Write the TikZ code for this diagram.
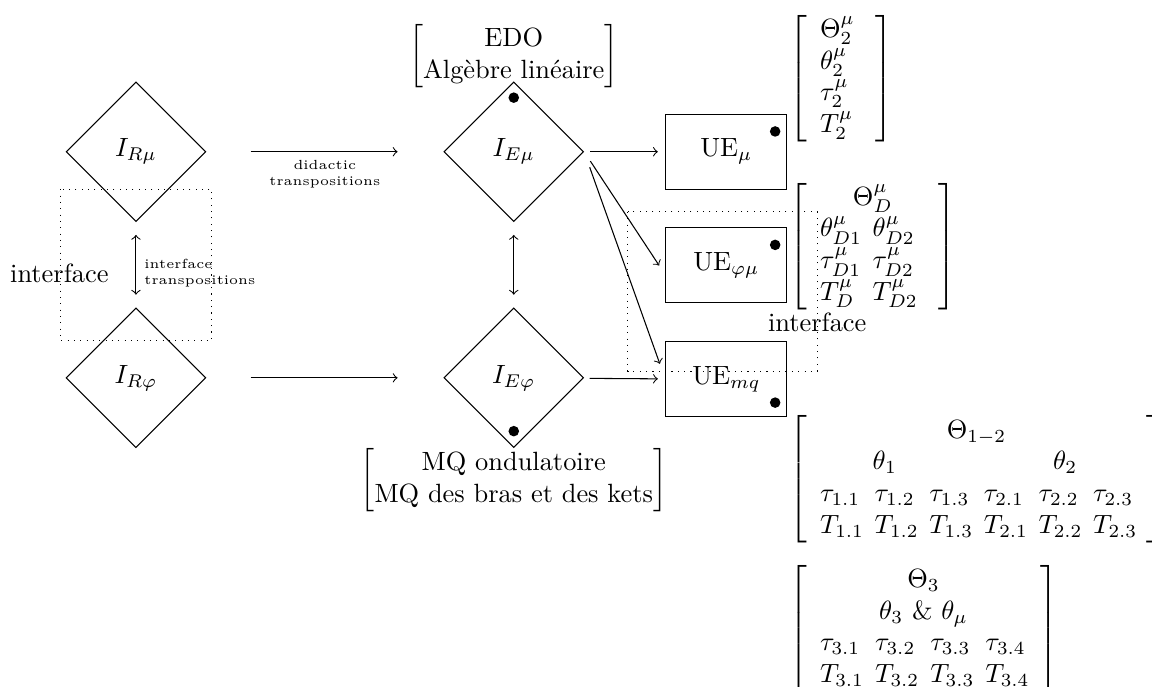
\documentclass[tikz,border=0pt]{standalone}
\usepackage{amsmath,amssymb}
\usepackage{tikz}
\usetikzlibrary{positioning,shapes.geometric}

\tikzset{
  idea/.style={diamond, draw, minimum size=1.86cm, inner sep=0pt},
  unitbox/.style={rectangle, draw, minimum width=1.61cm, minimum height=1cm},
  zone/.style={draw, dotted},
  tag/.style={inner sep=0pt},
  note/.style={font=\tiny, inner sep=3pt}
}

\begin{document}
\begin{tikzpicture}
    \useasboundingbox (0,0) rectangle (15.337,-9.146);

    % Diamonds of the two levels
    \node[idea] (Rmu) at (1.81,-2.02) {$I_{R\mu}$};
    \node[idea] (Rphi) at (1.81,-5.03) {$I_{R\varphi}$};
    \node[idea] (Emu) at (6.84,-2.02) {$I_{E\mu}$};
    \node[idea] (Ephi) at (6.84,-5.03) {$I_{E\varphi}$};

    % Teaching units
    \node[unitbox] (UEmu) at (9.67,-2.02) {$\mathrm{UE}_{\mu}$};
    \node[unitbox] (UEphimu) at (9.67,-3.53) {$\mathrm{UE}_{\varphi\mu}$};
    \node[unitbox] (UEmq) at (9.67,-5.05) {$\mathrm{UE}_{mq}$};

    \fill ([yshift=0.72cm]Emu.center) circle (2pt);
    \fill ([yshift=-0.71cm]Ephi.center) circle (2pt);
    \fill ([shift={(0.65,0.27)}]UEmu.center) circle (2pt);
    \fill ([shift={(0.65,0.27)}]UEphimu.center) circle (2pt);
    \fill ([shift={(0.65,-0.31)}]UEmq.center) circle (2pt);

    % Contents above and below
    \node[tag, above=-0.09cm of Emu] (edo) {$\begin{bmatrix}\text{EDO}\\ \text{Algèbre linéaire}\end{bmatrix}$};
    \node[tag, below=0cm of Ephi] (mq) {$\begin{bmatrix}\text{MQ ondulatoire}\\ \text{MQ des bras et des kets}\end{bmatrix}$};

    % Transpositions
    \draw[->, shorten <=0.59cm, shorten >=0.61cm] (Rmu) -- (Emu)
        node[note, midway, below, align=center] {didactic\\transpositions};
    \draw[->, shorten <=0.59cm, shorten >=0.61cm] (Rphi) -- (Ephi);
    \draw[<->, shorten <=0.17cm, shorten >=0.17cm] (Rmu) -- (Rphi)
        node[note, pos=0.6, right, align=left] {interface\\transpositions};
    \draw[<->, shorten <=0.17cm, shorten >=0.17cm] (Emu) -- (Ephi);

    % Towards the units
    \draw[->, shorten <=0.08cm, shorten >=0.1cm] (Emu) -- (UEmu);
    \draw[->, shorten <=0.15cm, shorten >=0.15cm] (Emu.east) -- ([yshift=-0.13cm]UEphimu.west);
    \draw[->, shorten <=0.22cm, shorten >=0.22cm] (Emu.east) -- (UEmq.west);
    \draw[->, shorten <=0.08cm, shorten >=0.1cm] (Ephi) -- (UEmq);

    % Interfaces
    \draw[zone] (0.80,-2.52) rectangle (2.82,-4.53);
    \node (ifleft) at (0.79,-3.64) {interface};
    \draw[zone] (8.36,-2.82) rectangle (10.88,-4.94);
    \node (ifright) at (10.88,-4.29) {interface};

    % Contents of the units
    \node[tag, anchor=west] (thmu) at (10.50,-1.045)
        {$\left[\begin{array}{l@{\hspace{8pt}}}\Theta_2^\mu\\ \theta_2^\mu\\ \tau_2^\mu\\ T_2^\mu\end{array}\right]$};
    \node[tag, anchor=west] (thD) at (10.50,-3.28)
        {$\left[\begin{array}{l@{\hspace{4pt}}l@{\hspace{8pt}}}\multicolumn{2}{c}{\Theta_D^\mu}\\ \theta_{D1}^\mu & \theta_{D2}^\mu\\ \tau_{D1}^\mu & \tau_{D2}^\mu\\ T_D^\mu & T_{D2}^\mu\end{array}\right]$};
    \node[tag, anchor=west] (th12) at (10.50,-6.38)
        {$\left[\begin{array}{@{\hspace{5pt}}l*{5}{@{\hspace{4pt}}l}@{\hspace{3.5pt}}}
        \multicolumn{6}{c}{\Theta_{1-2}}\\
        \multicolumn{3}{c}{\theta_1\hspace{8pt}} & \multicolumn{3}{c}{\theta_2}\\
        \tau_{1.1} & \tau_{1.2} & \tau_{1.3} & \tau_{2.1} & \tau_{2.2} & \tau_{2.3}\\
        T_{1.1} & T_{1.2} & T_{1.3} & T_{2.1} & T_{2.2} & T_{2.3}\end{array}\right]$};
    \node[tag, anchor=west] (th3) at (10.50,-8.37)
        {$\left[\begin{array}{@{\hspace{5pt}}l*{3}{@{\hspace{4.2pt}}l}@{\hspace{4pt}}}
        \multicolumn{4}{c}{\Theta_3}\\
        \multicolumn{4}{c}{\theta_3\ \&\ \theta_\mu}\\
        \tau_{3.1} & \tau_{3.2} & \tau_{3.3} & \tau_{3.4}\\
        T_{3.1} & T_{3.2} & T_{3.3} & T_{3.4}\end{array}\right]$};
\end{tikzpicture}
\end{document}
